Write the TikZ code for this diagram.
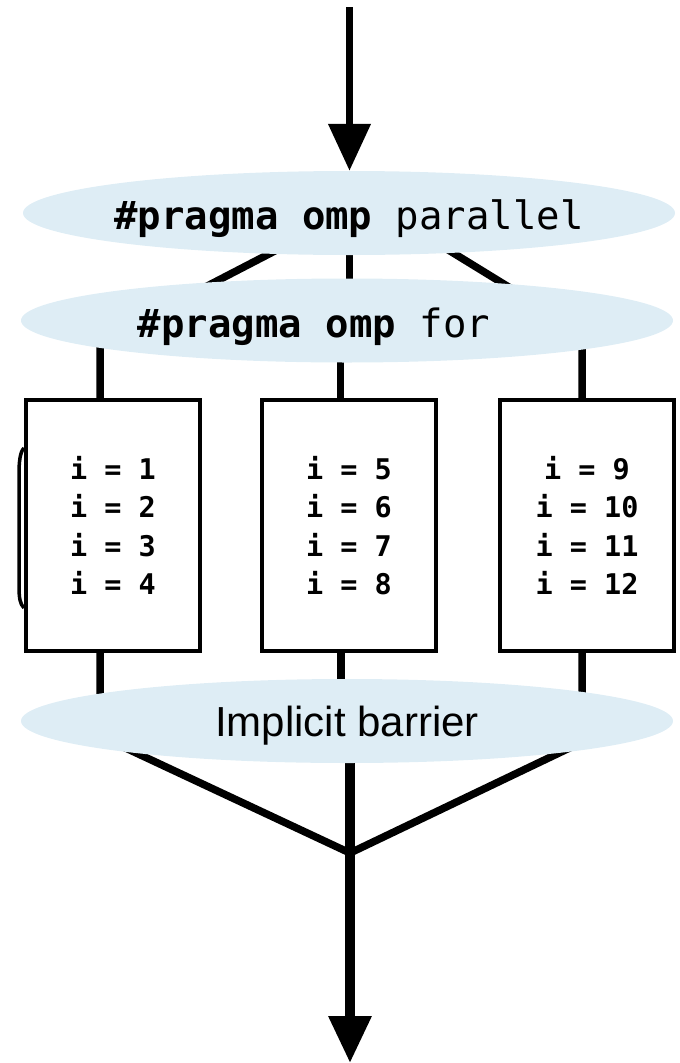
\documentclass[tikz,border=0pt]{standalone}
\usepackage{fontspec}
\setmainfont{Liberation Sans}
\setmonofont{DejaVu Sans Mono}
\usetikzlibrary{arrows.meta,shapes.geometric}
\definecolor{ompblue}{RGB}{222,237,245}
\pgfdeclarelayer{lines}
\pgfsetlayers{lines,main}
% label set on a baseline lowered by #1 below the node centre
\newcommand{\onbase}[2]{\makebox[0pt]{\raisebox{#1}[0pt][0pt]{#2}}}

\begin{document}
\begin{tikzpicture}[x=1pt,y=-1pt,
  thread/.style={line width=7.5pt, line join=miter},
  mainline/.style={line width=9.5pt},
  bubble/.style={ellipse, fill=ompblue, inner sep=0pt,
    minimum width=652pt, minimum height=84pt},
  codefont/.style={font=\fontsize{39}{44}\selectfont\ttfamily},
  chunk/.style={draw, line width=4pt, fill=white, inner sep=0pt,
    minimum width=174pt, minimum height=251pt, align=center,
    font=\fontsize{28.5}{38.5}\selectfont\ttfamily\bfseries},
  tip/.style={-{Triangle[width=41pt,length=47pt]}}
  ]
\useasboundingbox (0,0) rectangle (680,1063);

% fork and join points of the thread lines
\coordinate (src)   at (349.5,7);
\coordinate (forkL) at (349,212.5);
\coordinate (forkC) at (349.5,200);
\coordinate (forkR) at (349,189);
\coordinate (bendL) at (100,341.6);
\coordinate (bendR) at (582,332);
\coordinate (midC)  at (340.5,320);
\coordinate (lowL)  at (100,736);
\coordinate (lowC)  at (341,721);
\coordinate (lowR)  at (582,742);
\coordinate (join)  at (350,853);
\coordinate (outC)  at (350,721);
\coordinate (sink)  at (350,1063);

% directive ellipses
\node[bubble, codefont] (par) at (349,213)
  {\onbase{-16pt}{\textbf{\#pragma omp} parallel}};
\node[bubble, codefont] (for) at (347,320.5)
  {\onbase{-16.5pt}{\hspace*{-66pt}\textbf{\#pragma omp} for}};
\node[bubble, font=\fontsize{42}{48}\selectfont] (bar) at (347,721)
  {\onbase{-15.5pt}{Implicit barrier}};

% work-sharing chunks
\node[chunk] (b1) at (113,525.5) {i = 1\\i = 2\\i = 3\\i = 4};
\node[chunk] (b2) at (349,525.5) {i = 5\\i = 6\\i = 7\\i = 8};
\node[chunk] (b3) at (587,525.5) {i = 9\\i = 10\\i = 11\\i = 12};

% stray edge at the left of the first chunk
\draw[line width=3.5pt] (24,448) .. controls (20,452) and (19,462) .. (19,474)
  -- (19,586) .. controls (19,598) and (20,604) .. (24,608);

% thread lines, kept beneath the ellipses and chunks
\begin{pgfonlayer}{lines}
\draw[thread] (forkL) -- (bendL) -- (bendL |- b1.north);
\draw[thread] (forkC) -- (forkC |- midC);
\draw[thread] (midC) -- (midC |- b2.north);
\draw[thread] (forkR) -- (bendR) -- (bendR |- b3.north);
\draw[thread] (bendL |- b1.south) -- (lowL) -- (join);
\draw[thread] (lowC |- b2.south) -- (lowC);
\draw[thread] (bendR |- b3.south) -- (lowR) -- (join);
\draw[thread, tip] (src) -- (src |- par.north);
\draw[mainline, tip] (outC) -- (sink);
\end{pgfonlayer}
\end{tikzpicture}
\end{document}
